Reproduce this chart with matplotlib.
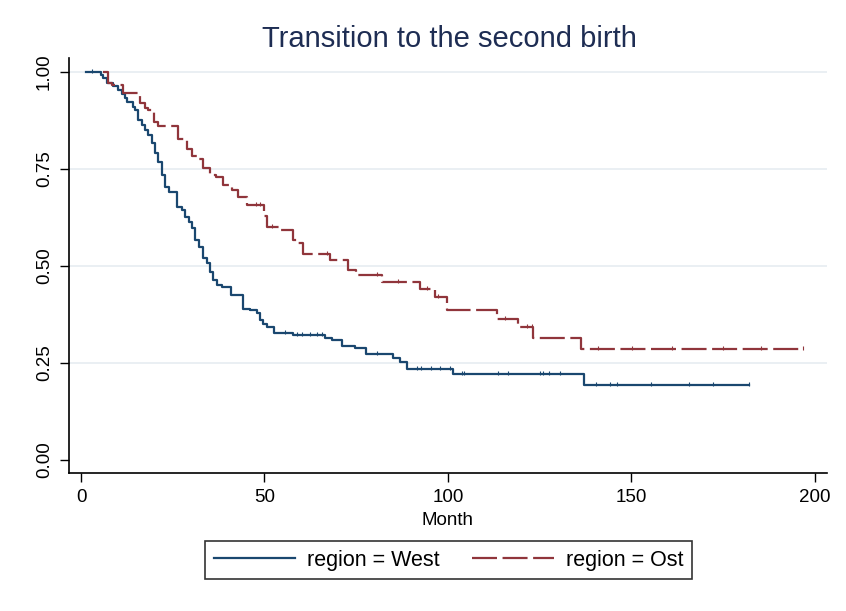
import numpy as np
import matplotlib.pyplot as plt

plt.rcParams['font.family'] = ['Liberation Sans', 'DejaVu Sans']
plt.rcParams['lines.scale_dashes'] = False

# Kaplan-Meier steps (time of drop, survival after it)
west_time = [1.4, 5.4, 6.0, 7.1, 8.7, 10.1, 11.2, 12.0, 12.5, 14.2, 14.7, 15.5,
             16.6, 17.4, 18.3, 19.3, 20.2, 21.1, 22.0, 22.9, 24.1, 26.2, 27.4,
             28.3, 29.5, 30.2, 31.1, 32.2, 33.2, 34.2, 35.1, 36.1, 37.0, 38.3,
             40.8, 44.1, 46.0, 48.0, 48.8, 49.6, 50.7, 52.6, 57.8, 66.5, 68.4,
             71.1, 74.7, 77.7, 85.0, 86.9, 88.8, 101.4, 137.1]
west_surv = [1.0, 0.992, 0.985, 0.972, 0.964, 0.954, 0.943, 0.933, 0.923, 0.910,
             0.902, 0.876, 0.863, 0.851, 0.838, 0.816, 0.792, 0.768, 0.735,
             0.704, 0.690, 0.653, 0.644, 0.627, 0.614, 0.597, 0.567, 0.550,
             0.520, 0.507, 0.485, 0.464, 0.451, 0.447, 0.425, 0.390, 0.387,
             0.379, 0.361, 0.350, 0.343, 0.327, 0.322, 0.314, 0.308, 0.294,
             0.289, 0.273, 0.263, 0.253, 0.235, 0.222, 0.192]
west_end = 182.0
west_cens = [3.0, 55.6, 58.8, 60.2, 62.4, 64.3, 65.7, 80.7, 91.6, 92.6, 95.4,
             97.8, 100.5, 103.8, 104.4, 113.6, 116.3, 125.1, 125.9, 127.5,
             130.5, 140.4, 144.1, 146.0, 155.3, 165.7, 172.2, 182.0]

ost_time = [6.0, 7.4, 8.4, 11.4, 16.1, 17.4, 18.3, 19.9, 21.0, 26.4, 28.9, 30.2,
            31.9, 33.2, 35.1, 36.8, 38.7, 41.1, 42.8, 45.2, 49.9, 50.7, 54.2,
            57.8, 58.9, 60.5, 67.8, 72.8, 74.9, 82.0, 92.4, 96.5, 99.7, 113.4,
            119.1, 123.2, 136.2]
ost_surv = [1.0, 0.972, 0.966, 0.946, 0.920, 0.907, 0.902, 0.871, 0.861, 0.827,
            0.802, 0.784, 0.776, 0.753, 0.735, 0.729, 0.709, 0.696, 0.678,
            0.658, 0.629, 0.601, 0.593, 0.567, 0.560, 0.531, 0.515, 0.490,
            0.477, 0.459, 0.441, 0.420, 0.387, 0.363, 0.343, 0.314, 0.286]
ost_end = 196.7
ost_cens = [47.7, 48.8, 52.0, 67.0, 80.6, 86.4, 94.3, 97.3, 115.5, 121.5, 122.9,
            140.9, 150.1, 161.0, 175.0, 185.3, 196.7]

labels = ['region = West', 'region = Ost']
colors = ['#1a476f', '#90353b']

fig = plt.figure(figsize=(8.46, 6.11), dpi=100)
ax = fig.add_axes([0.0816, 0.2259, 0.8959, 0.6791])


def draw_km(times, surv, end, cens, color, label, **kw):
    t = np.array(times + [end])
    s = np.array(surv + [surv[-1]])
    ax.step(t, s, where='post', color=color, lw=1.6, label=label, **kw)
    idx = np.searchsorted(times, cens, side='right') - 1
    cy = np.array(surv)[idx]
    ax.plot(cens, cy + 0.003, ls='none', marker='|', ms=3.5, mew=0.8, color=color)


draw_km(west_time, west_surv, west_end, west_cens, colors[0], labels[0])
draw_km(ost_time, ost_surv, ost_end, ost_cens, colors[1], labels[1],
        dashes=(18, 4))

ax.set_xlim(-3.27, 203.3)
ax.set_ylim(-0.0335, 1.036)
ax.set_xticks([0, 50, 100, 150, 200])
ax.set_yticks([0, 0.25, 0.5, 0.75, 1.0])
ax.set_yticklabels(['0.00', '0.25', '0.50', '0.75', '1.00'])
for g in [0.25, 0.5, 0.75, 1.0]:
    ax.axhline(g, color='#e8eef2', lw=1.3, zorder=0)

for side in ['top', 'right']:
    ax.spines[side].set_visible(False)
for side in ['left', 'bottom']:
    ax.spines[side].set_linewidth(1.2)

ax.tick_params(axis='both', direction='out', length=6.5, width=1.0,
               labelsize=13.5, pad=5)
ax.tick_params(axis='y', labelrotation=90)
for lab in ax.get_yticklabels():
    lab.set_va('center')

ax.set_xlabel('Month', fontsize=13.5, labelpad=4)

fig.text(0.531, 1 - 39 / 611, 'Transition to the second birth',
         ha='center', va='center', fontsize=21, color='#1e2d53')

leg = ax.legend(loc='upper center', bbox_to_anchor=(0.53, 1 - 541 / 611),
                bbox_transform=fig.transFigure, ncol=2, fontsize=15.5,
                frameon=True, fancybox=False, edgecolor='black',
                handlelength=3.8, handletextpad=0.55, columnspacing=1.5,
                borderpad=0.4, borderaxespad=0)
leg.get_frame().set_linewidth(1.2)

fig.savefig('out.png', dpi=100)
